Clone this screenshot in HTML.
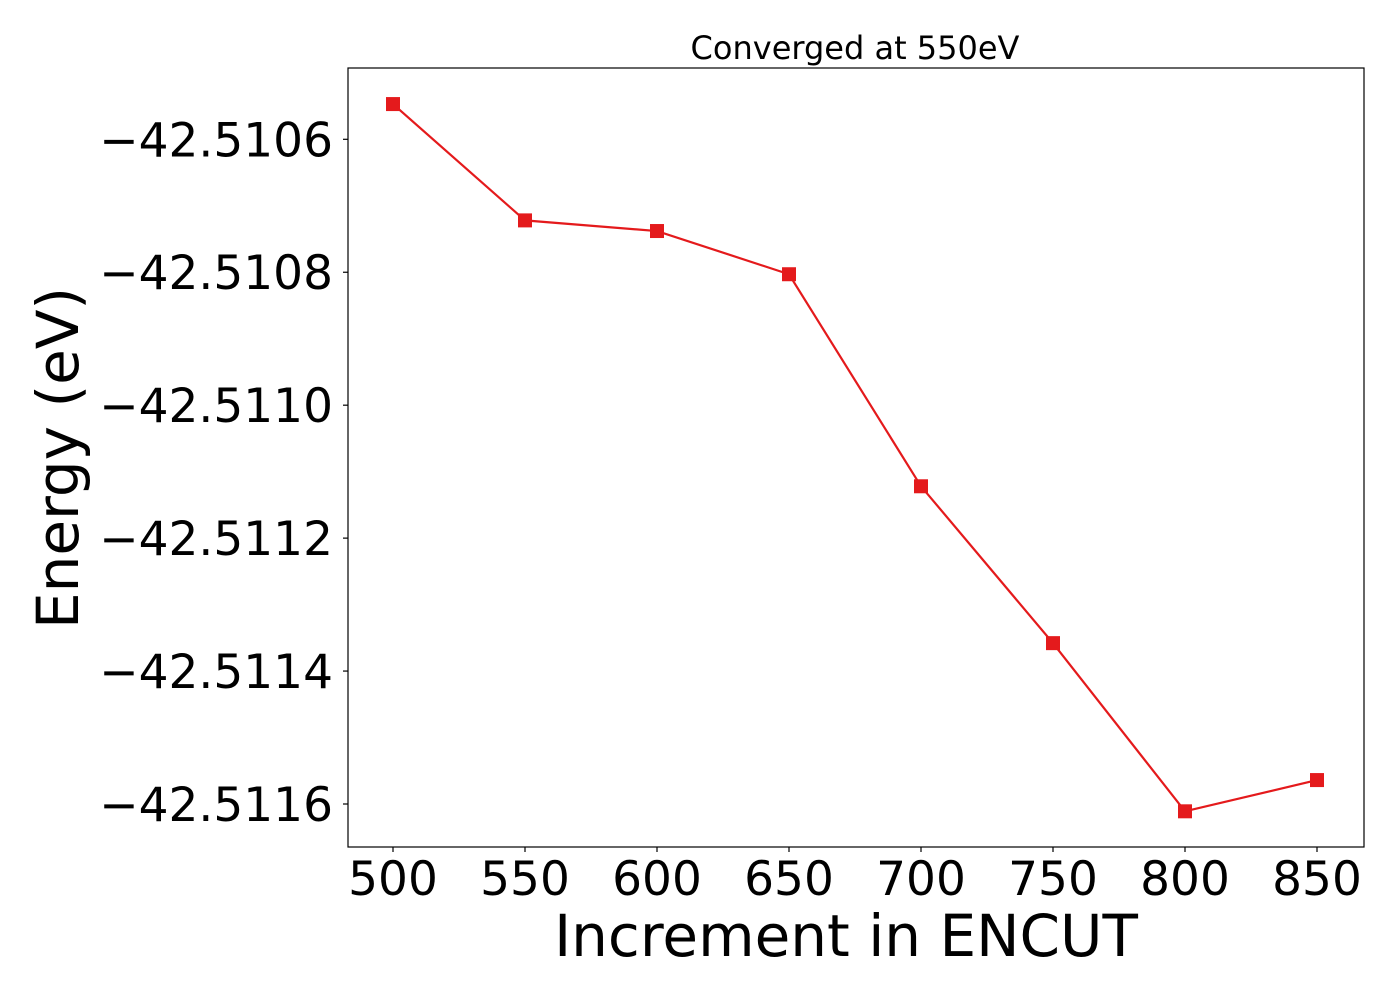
<!DOCTYPE html>
<html><head><meta charset="utf-8"><style>
html,body{margin:0;padding:0;background:#fff;}
svg{display:block;font-family:"DejaVu Sans","Liberation Sans",sans-serif;}
</style></head><body>
<svg id="chart" width="1400" height="1000">
<rect x="0" y="0" width="1400" height="1000" fill="#fff"/>
<g id="grid"></g>
<text x="855" y="59" font-size="32" text-anchor="middle">Converged at 550eV</text>
<text x="846" y="956" font-size="58" text-anchor="middle">Increment in ENCUT</text>
<text transform="translate(78,458) rotate(-90)" font-size="58" text-anchor="middle">Energy (eV)</text>
</svg>
<script>
const categories=[500,550,600,650,700,750,800,850];
const energies=[-42.510547,-42.510722,-42.510738,-42.510803,-42.511122,-42.511358,-42.511611,-42.511564];
const xTicks=[500,550,600,650,700,750,800,850];
const yTicks=[-42.5106,-42.5108,-42.5110,-42.5112,-42.5114,-42.5116];
const yTickLabels=["\u221242.5106","\u221242.5108","\u221242.5110","\u221242.5112","\u221242.5114","\u221242.5116"];

const L=348,R=1364,T=68,B=847;
const xs=v=>393+(v-500)*(1317-393)/350;
const ys=v=>139.3+(-42.5106-v)*(804-139.3)/0.001;
const svg=document.getElementById('chart');
const NS='http://www.w3.org/2000/svg';
function mk(tag,attrs){const e=document.createElementNS(NS,tag);for(const k in attrs)e.setAttribute(k,attrs[k]);svg.appendChild(e);return e;}

xTicks.forEach(v=>{
  const t=mk('line',{x1:xs(v),x2:xs(v),y1:B,y2:B+5,stroke:'#000','stroke-width':1.2});
  
  
  const l=mk('text',{x:xs(v),y:B+48,'font-size':47,'text-anchor':'middle'});
  l.textContent=v;
  
  
});
yTicks.forEach((v,i)=>{
  const t=mk('line',{x1:L-5,x2:L,y1:ys(v),y2:ys(v),stroke:'#000','stroke-width':1.2});
  
  
  const l=mk('text',{x:333,y:ys(v)+17,'font-size':47,'text-anchor':'end'});
  l.textContent=yTickLabels[i];
  
  
});
const pts=categories.map((c,i)=>xs(c)+','+ys(energies[i])).join(' ');
const line=mk('polyline',{points:pts,fill:'none',stroke:'#e41a1c','stroke-width':2.2});


categories.forEach((c,i)=>{
  const m=mk('rect',{x:xs(c)-7,y:ys(energies[i])-7,width:14,height:14,fill:'#e41a1c'});
  
  
});
const frame=mk('rect',{x:L,y:T,width:R-L,height:B-T,fill:'none',stroke:'#000','stroke-width':1.2});


</script>
</body></html>
